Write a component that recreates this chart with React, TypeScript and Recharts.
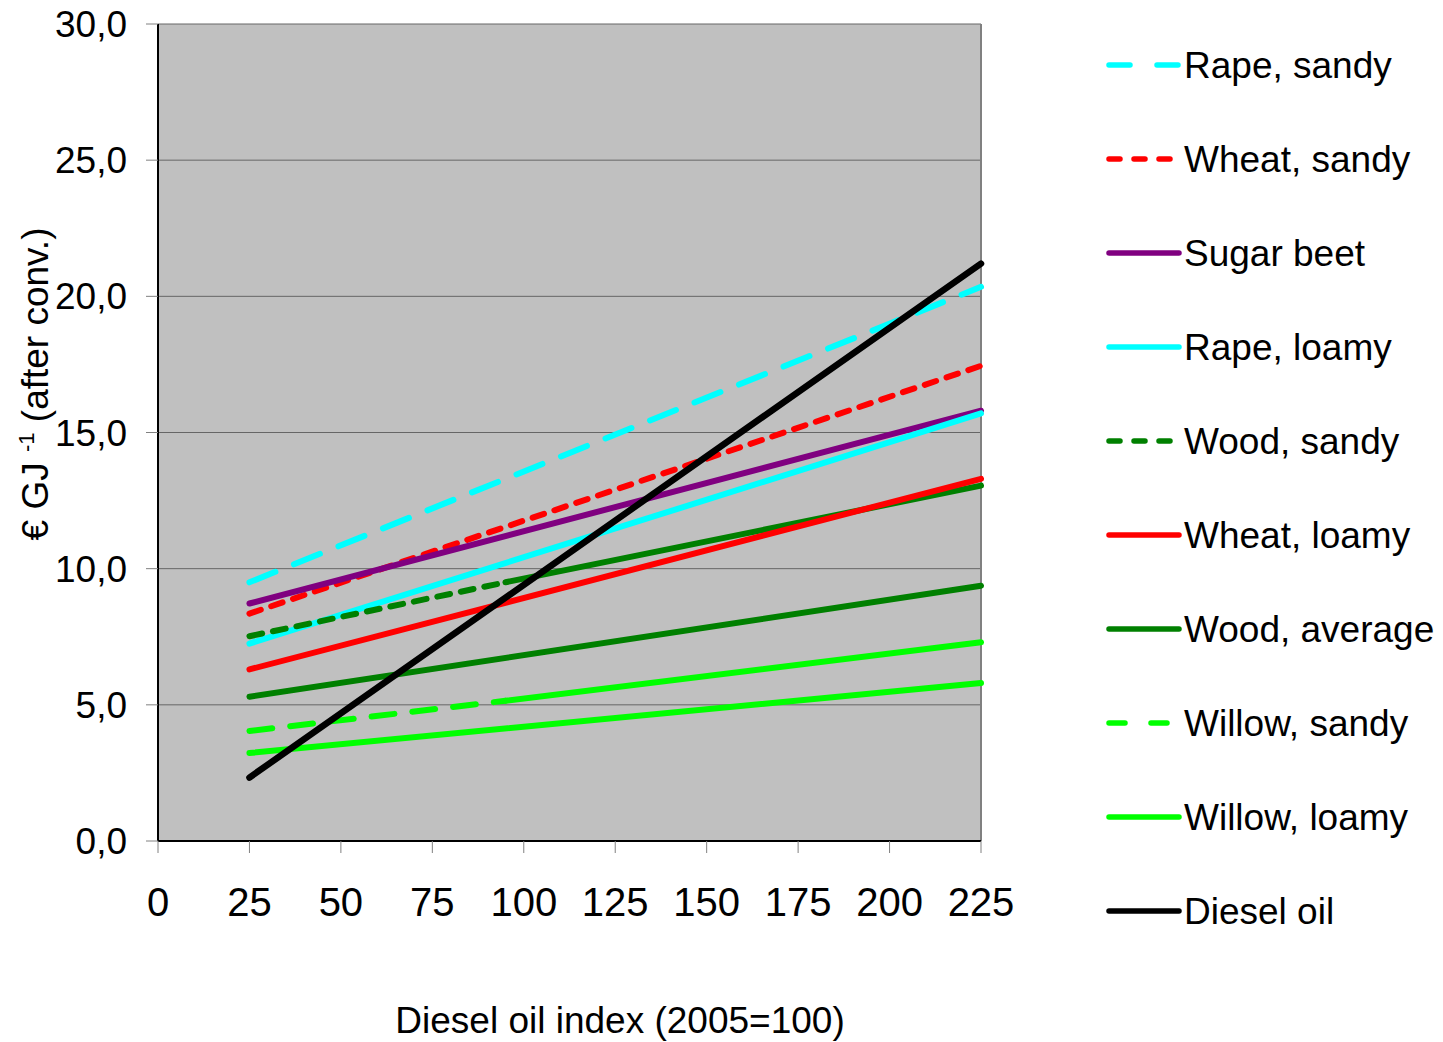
import { LineChart, Line, XAxis, YAxis, CartesianGrid, Legend, ReferenceLine } from 'recharts';

const FONT = 'Arial, "Liberation Sans", Helvetica, sans-serif';

// Diesel oil index (2005=100) at which each series is given
const indexRange = [25, 225];
// dashed part runs from 25 to 95, the rest is drawn solid
const indexSplit = [25, 95, 225];

// Cost in € per GJ after conversion
const rapeSandy = [9.5, 20.35];
const wheatSandy = [8.35, 17.45];
const sugarBeet = [8.72, 15.8];
const rapeLoamy = [7.25, 15.7];
const woodSandy = [7.52, 9.5, 13.05];
const wheatLoamy = [6.3, 13.3];
const woodAverage = [5.3, 9.37];
const willowSandy = [4.04, 5.15, 7.3];
const willowLoamy = [3.23, 5.8];
const dieselOil = [2.33, 21.2];

const xTicks = [0, 25, 50, 75, 100, 125, 150, 175, 200, 225];
const yTicks = [0, 5, 10, 15, 20, 25, 30];

type Row = { x: number; v: number };
const toRows = (index: number[], values: number[]): Row[] =>
  index.map((x, i) => ({ x, v: values[i] }));

interface Series {
  name: string;
  color: string;
  dash?: string;
  legendDash?: string;
  width: number;
  rows: Row[];
  // optional solid continuation (Excel draws short segments solid)
  tail?: Row[];
}

const series: Series[] = [
  { name: 'Rape, sandy', color: '#00FFFF', dash: '28 20', legendDash: '21 27', width: 6, rows: toRows(indexRange, rapeSandy) },
  { name: 'Wheat, sandy', color: '#FF0000', dash: '12 11', legendDash: '11 14', width: 6, rows: toRows(indexRange, wheatSandy) },
  { name: 'Sugar beet', color: '#800080', width: 6, rows: toRows(indexRange, sugarBeet) },
  { name: 'Rape, loamy', color: '#00FFFF', width: 6, rows: toRows(indexRange, rapeLoamy) },
  {
    name: 'Wood, sandy', color: '#008000', dash: '13 11', legendDash: '11 14', width: 6,
    rows: toRows(indexSplit.slice(0, 2), woodSandy.slice(0, 2)),
    tail: toRows(indexSplit.slice(1), woodSandy.slice(1)),
  },
  { name: 'Wheat, loamy', color: '#FF0000', width: 6, rows: toRows(indexRange, wheatLoamy) },
  { name: 'Wood, average', color: '#008000', width: 6, rows: toRows(indexRange, woodAverage) },
  {
    name: 'Willow, sandy', color: '#00FF00', dash: '23 18', legendDash: '16 26', width: 6,
    rows: toRows(indexSplit.slice(0, 2), willowSandy.slice(0, 2)),
    tail: toRows(indexSplit.slice(1), willowSandy.slice(1)),
  },
  { name: 'Willow, loamy', color: '#00FF00', width: 6, rows: toRows(indexRange, willowLoamy) },
  { name: 'Diesel oil', color: '#000000', width: 6.5, rows: toRows(indexRange, dieselOil) },
];

const fmtY = (v: number) => v.toFixed(1).replace('.', ',');

const LegendBox = () => (
  <div style={{ fontFamily: FONT }}>
    {series.map((s) => (
      <div key={s.name} style={{ height: 94, display: 'flex', alignItems: 'center' }}>
        <svg width={78} height={10} style={{ flex: 'none' }}>
          <line
            x1={3}
            x2={73}
            y1={5}
            y2={5}
            stroke={s.color}
            strokeWidth={5.5}
            strokeLinecap="round"
            strokeDasharray={s.legendDash}
          />
        </svg>
        <span style={{ fontSize: 37, color: '#000', whiteSpace: 'nowrap', lineHeight: 1 }}>{s.name}</span>
      </div>
    ))}
  </div>
);

const YTitle = () => (
  <text
    x={48}
    y={384}
    transform="rotate(-90, 48, 384)"
    textAnchor="middle"
    fontSize={37}
    fontFamily={FONT}
    fill="#000"
  >
    <tspan>€ GJ </tspan>
    <tspan fontSize={22} dy={-14}>-1</tspan>
    <tspan dy={14}> (after conv.)</tspan>
  </text>
);

const XTitle = () => (
  <text x={620} y={1033} textAnchor="middle" fontSize={37} fontFamily={FONT} fill="#000">
    Diesel oil index (2005=100)
  </text>
);

export default function App() {
  return (
    <div style={{ position: 'absolute', left: 0, top: 0, width: 1443, height: 1042, background: '#fff' }}>
      <LineChart width={1443} height={1042} margin={{ top: 24, right: 462, bottom: 121, left: 58 }}>
        <CartesianGrid vertical={false} fill="#C0C0C0" stroke="#666" strokeWidth={1} />
        <XAxis
          dataKey="x"
          type="number"
          domain={[0, 225]}
          ticks={xTicks}
          interval={0}
          height={80}
          tickSize={12}
          tickMargin={35}
          tickLine={{ stroke: '#808080' }}
          axisLine={{ stroke: '#000', strokeWidth: 2 }}
          tick={{ fontSize: 40, fill: '#000', fontFamily: FONT }}
          label={{ content: XTitle }}
          allowDuplicatedCategory={false}
        />
        <YAxis
          type="number"
          domain={[0, 30]}
          ticks={yTicks}
          interval={0}
          width={100}
          tickSize={12}
          tickMargin={19}
          tickFormatter={fmtY}
          tickLine={{ stroke: '#808080' }}
          axisLine={{ stroke: '#000', strokeWidth: 2 }}
          tick={{ fontSize: 37, fill: '#000', fontFamily: FONT }}
          label={{ content: YTitle }}
        />
        <ReferenceLine x={225} stroke="#808080" strokeWidth={2} ifOverflow="extendDomain" />
        {series.flatMap((s) => {
          const lines = [
            <Line
              key={s.name}
              data={s.rows}
              dataKey="v"
              name={s.name}
              type="linear"
              stroke={s.color}
              strokeWidth={s.width}
              strokeDasharray={s.dash}
              strokeLinecap="round"
              dot={false}
              activeDot={false}
              isAnimationActive={false}
            />,
          ];
          if (s.tail) {
            lines.push(
              <Line
                key={s.name + '-tail'}
                data={s.tail}
                dataKey="v"
                name={s.name}
                type="linear"
                stroke={s.color}
                strokeWidth={s.width}
                strokeLinecap="round"
                legendType="none"
                dot={false}
                activeDot={false}
                isAnimationActive={false}
              />
            );
          }
          return lines;
        })}
        <Legend
          layout="vertical"
          align="center"
          verticalAlign="middle"
          content={LegendBox}
          wrapperStyle={{ left: 1106, top: 18, width: 337 }}
        />
      </LineChart>
    </div>
  );
}
